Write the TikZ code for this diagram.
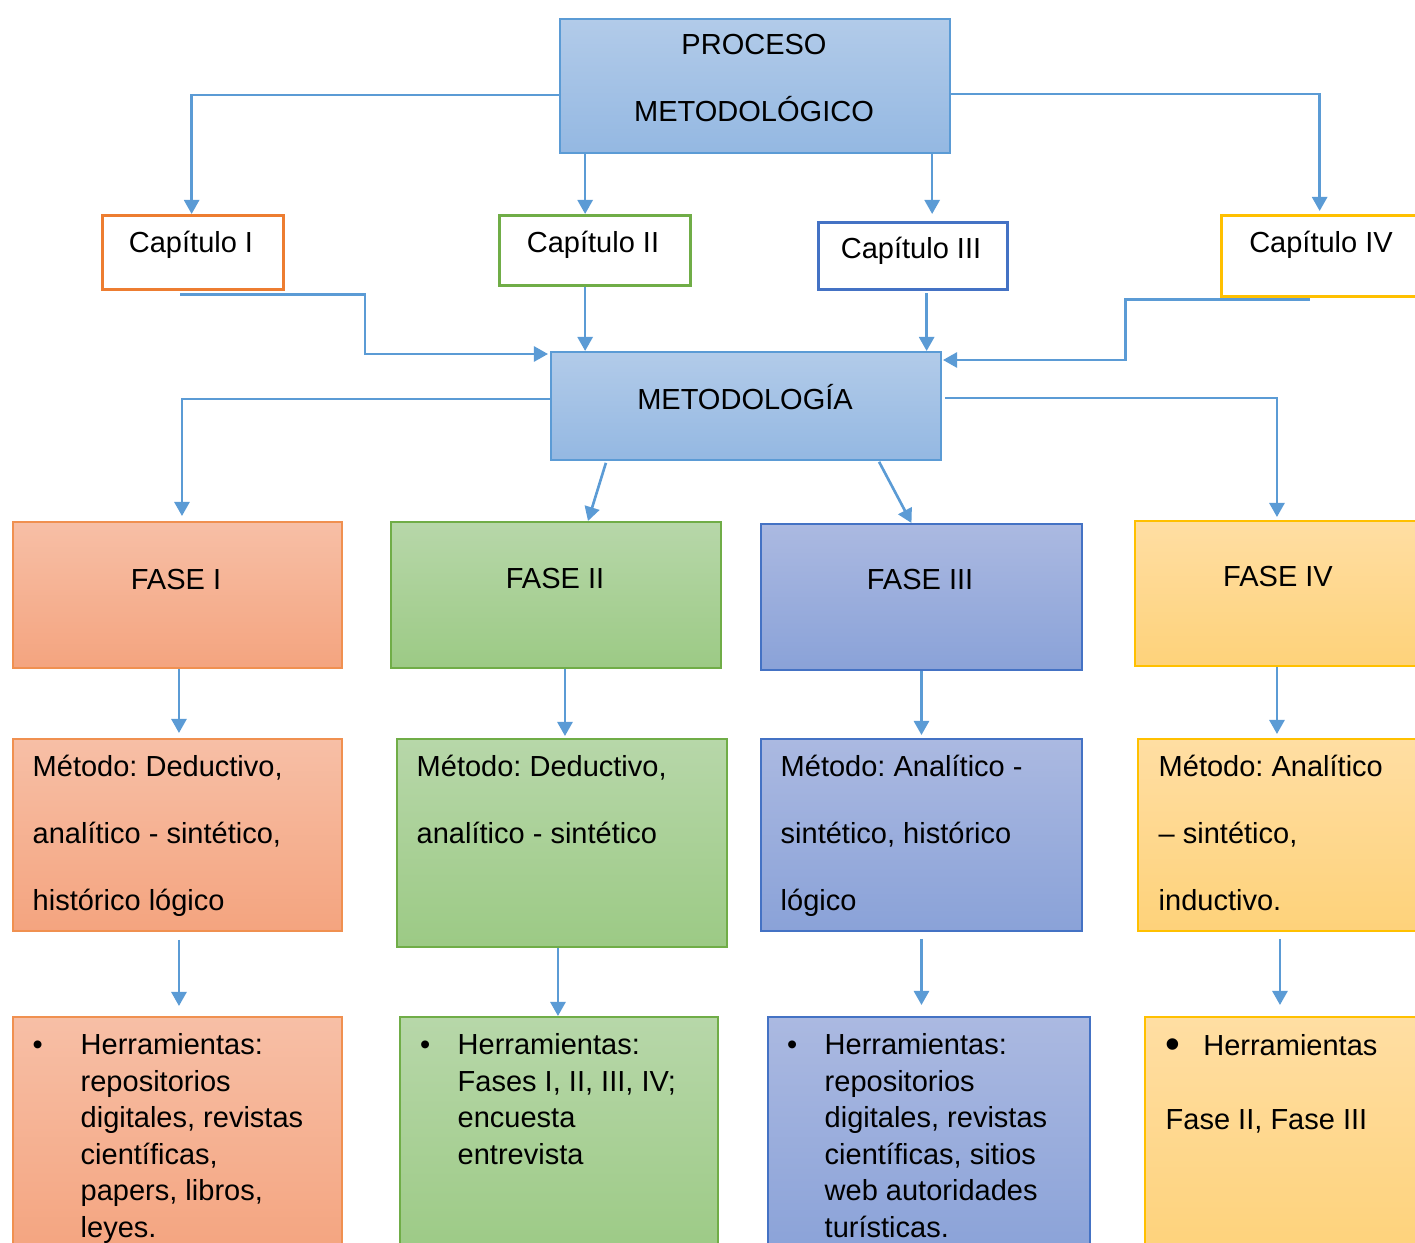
\documentclass[tikz,border=0pt]{standalone}
\usepackage{fontspec}
\setmainfont{Liberation Sans}
\usetikzlibrary{arrows.meta,calc}
\frenchspacing

\definecolor{linea}{HTML}{5B9BD5}
\definecolor{azulA}{HTML}{B2CBE9}
\definecolor{azulB}{HTML}{94B8E2}
\definecolor{naranja}{HTML}{ED7D31}
\definecolor{naranjaA}{HTML}{F7BFA6}
\definecolor{naranjaB}{HTML}{F4A47F}
\definecolor{verde}{HTML}{70AD47}
\definecolor{verdeA}{HTML}{B7D7A9}
\definecolor{verdeB}{HTML}{9CCA85}
\definecolor{azul}{HTML}{4472C4}
\definecolor{azulC}{HTML}{ABB9E1}
\definecolor{azulD}{HTML}{8AA2D8}
\definecolor{amarillo}{HTML}{FFC000}
\definecolor{amarilloA}{HTML}{FFDEA3}
\definecolor{amarilloB}{HTML}{FED27A}

\newcommand{\tam}{\fontsize{8.25}{10}\selectfont}
\newcommand{\arr}{\rule{0pt}{8pt}}

\tikzset{
  caja/.style={anchor=north west, inner sep=0pt, line width=0.5pt},
  capit/.style={caja, fill=white, line width=0.9pt},
  proc/.style={caja, draw=linea, top color=azulA, bottom color=azulB},
  naranjo/.style={caja, draw=naranja!85, top color=naranjaA, bottom color=naranjaB},
  verdoso/.style={caja, draw=verde, top color=verdeA, bottom color=verdeB},
  azulado/.style={caja, draw=azul, top color=azulC, bottom color=azulD},
  amarillento/.style={caja, draw=amarillo, top color=amarilloA, bottom color=amarilloB},
  txt/.style={inner sep=0pt, font=\tam},
  txtm/.style={txt, anchor=north west, align=left, font=\fontsize{8.25}{19.06}\selectfont},
  txth/.style={txt, anchor=north west, align=left, font=\fontsize{8.25}{10.36}\selectfont},
  link/.style={draw=linea, line width=0.75pt, -{Triangle[length=0.14cm,width=0.15cm]}}
}

\begin{document}
\begin{tikzpicture}[x=0.01cm,y=-0.01cm]
    \useasboundingbox (0,0) rectangle (1415,1243);
    \clip (0,0) rectangle (1415,1243);

    % cajas
    \node[proc, minimum width=3.90cm, minimum height=1.34cm] (proc) at (559,18) {};
    \node[capit, draw=naranja, minimum width=1.81cm, minimum height=0.74cm] (cap1) at (101,214) {};
    \node[capit, draw=verde, minimum width=1.91cm, minimum height=0.70cm] (cap2) at (498,214) {};
    \node[capit, draw=azul, minimum width=1.89cm, minimum height=0.67cm] (cap3) at (817,221) {};
    \node[capit, draw=amarillo, minimum width=2.00cm, minimum height=0.81cm] (cap4) at (1220,214) {};
    \node[proc, minimum width=3.90cm, minimum height=1.08cm] (meto) at (550,351) {};

    \node[naranjo, minimum width=3.29cm, minimum height=1.46cm] (f1) at (12,521) {};
    \node[verdoso, minimum width=3.30cm, minimum height=1.46cm] (f2) at (390,521) {};
    \node[azulado, minimum width=3.21cm, minimum height=1.46cm] (f3) at (760,523) {};
    \node[amarillento, minimum width=2.86cm, minimum height=1.45cm] (f4) at (1134,520) {};

    \node[naranjo, minimum width=3.29cm, minimum height=1.92cm] (m1) at (12,738) {};
    \node[verdoso, minimum width=3.30cm, minimum height=2.08cm] (m2) at (396,738) {};
    \node[azulado, minimum width=3.21cm, minimum height=1.92cm] (m3) at (760,738) {};
    \node[amarillento, minimum width=2.83cm, minimum height=1.92cm] (m4) at (1137,738) {};

    \node[naranjo, minimum width=3.29cm, minimum height=2.40cm] (h1) at (12,1016) {};
    \node[verdoso, minimum width=3.18cm, minimum height=2.40cm] (h2) at (399,1016) {};
    \node[azulado, minimum width=3.22cm, minimum height=2.40cm] (h3) at (767,1016) {};
    \node[amarillento, minimum width=2.76cm, minimum height=2.40cm] (h4) at (1144,1016) {};

    % textos
    \node[txt, anchor=base] (proc-a) at (754,55) {PROCESO};
    \node[txt, anchor=base] (proc-b) at (754,122) {METODOLÓGICO};
    \node[txt, anchor=base] (cap1-t) at (191,253) {Capítulo I};
    \node[txt, anchor=base] (cap2-t) at (593,253) {Capítulo II};
    \node[txt, anchor=base] (cap3-t) at (911,259) {Capítulo III};
    \node[txt, anchor=base] (cap4-t) at (1321,253) {Capítulo IV};
    \node[txt, anchor=base] (meto-t) at (745,410) {METODOLOGÍA};
    \node[txt, anchor=base] (f1-t) at (176,589) {FASE I};
    \node[txt, anchor=base] (f2-t) at (555,588) {FASE II};
    \node[txt, anchor=base] (f3-t) at (920,590) {FASE III};
    \node[txt, anchor=base] (f4-t) at (1278,587) {FASE IV};

    \node[txtm] (m1-t) at (32,748) {\arr Método: Deductivo,\\analítico - sintético,\\histórico lógico};
    \node[txtm] (m2-t) at (416,748) {\arr Método: Deductivo,\\analítico - sintético};
    \node[txtm] (m3-t) at (780,748) {\arr Método: Analítico -\\sintético, histórico\\lógico};
    \node[txtm] (m4-t) at (1158,748) {\arr Método: Analítico\\– sintético,\\inductivo.};

    \node[txth] (h1-t) at (80,1026) {\arr\llap{\textbullet\hspace{10.8pt}}Herramientas:\\repositorios\\digitales, revistas\\científicas,\\papers, libros,\\leyes.};
    \node[txth] (h2-t) at (457,1026) {\arr\llap{\textbullet\hspace{7.8pt}}Herramientas:\\Fases I, II, III, IV;\\encuesta\\entrevista};
    \node[txth] (h3-t) at (824,1026) {\arr\llap{\textbullet\hspace{7.8pt}}Herramientas:\\repositorios\\digitales, revistas\\científicas, sitios\\web autoridades\\turísticas.};
    \node[txth, font=\fontsize{8.25}{21.05}\selectfont] (h4-t) at (1165,1027) {\arr\raisebox{-0.8pt}{\large\textbullet}\hspace{6.5pt}Herramientas\\Fase II, Fase III};

    % conectores
    \draw[link] ([yshift=-0.09cm]proc.west) -| ([xshift=-0.015cm]cap1.north);
    \draw[link] ([xshift=-0.1cm]cap2.north |- proc.south) -- ([xshift=-0.1cm]cap2.north);
    \draw[link] ([xshift=0.19cm]cap3.north |- proc.south) -- ([xshift=0.19cm,yshift=0.07cm]cap3.north);
    \draw[link] ([yshift=-0.08cm]proc.east) -| ([xshift=-0.02cm,yshift=0.03cm]cap4.north);

    \draw[link] ([xshift=-0.13cm,yshift=-0.03cm]cap1.south) -- ++(185,0) |- ([xshift=-0.02cm,yshift=-0.03cm]meto.north west);
    \draw[link] ([xshift=-0.1cm]cap2.south) -- ([xshift=-0.1cm]cap2.south |- meto.north);
    \draw[link] ([xshift=0.135cm,yshift=-0.02cm]cap3.south) -- ([xshift=0.135cm]cap3.south |- meto.north);
    \draw[link] ([xshift=-0.12cm,yshift=-0.01cm]cap4.south) -- ++(-184,0) |- ([xshift=0.01cm,yshift=-0.09cm]meto.north east);

    \draw[link] ([yshift=0.07cm]meto.west) -| ([xshift=0.045cm,yshift=0.05cm]f1.north);
    \draw[link] ([xshift=-1.40cm,yshift=-0.02cm]meto.south) -- ([xshift=0.32cm]f2.north);
    \draw[link] ([xshift=1.33cm,yshift=-0.01cm]meto.south) -- ([xshift=-0.1cm]f3.north);
    \draw[link] ([xshift=0.03cm,yshift=0.08cm]meto.east) -| ([xshift=-0.01cm,yshift=0.03cm]f4.north);

    \draw[link, shorten >=0.05cm] ([xshift=0.015cm]f1.south) -- ([xshift=0.015cm]m1.north);
    \draw[link, shorten >=0.02cm] ([xshift=0.03cm]m2.north |- f2.south) -- ([xshift=0.03cm]m2.north);
    \draw[link, shorten >=0.03cm] (f3.south) -- (m3.north);
    \draw[link, shorten >=0.04cm] ([xshift=-0.01cm]f4.south) -- ([xshift=-0.01cm]f4.south |- m4.north);

    \draw[link, shorten <=0.08cm, shorten >=0.1cm] ([xshift=0.015cm]m1.south) -- ([xshift=0.015cm]h1.north);
    \draw[link] ([xshift=-0.01cm]h2.north |- m2.south) -- ([xshift=-0.01cm]h2.north);
    \draw[link, shorten <=0.07cm, shorten >=0.11cm] (m3.south) -- (m3.south |- h3.north);
    \draw[link, shorten <=0.07cm, shorten >=0.11cm] ([xshift=0.005cm]m4.south) -- ([xshift=0.005cm]m4.south |- h4.north);
\end{tikzpicture}
\end{document}
